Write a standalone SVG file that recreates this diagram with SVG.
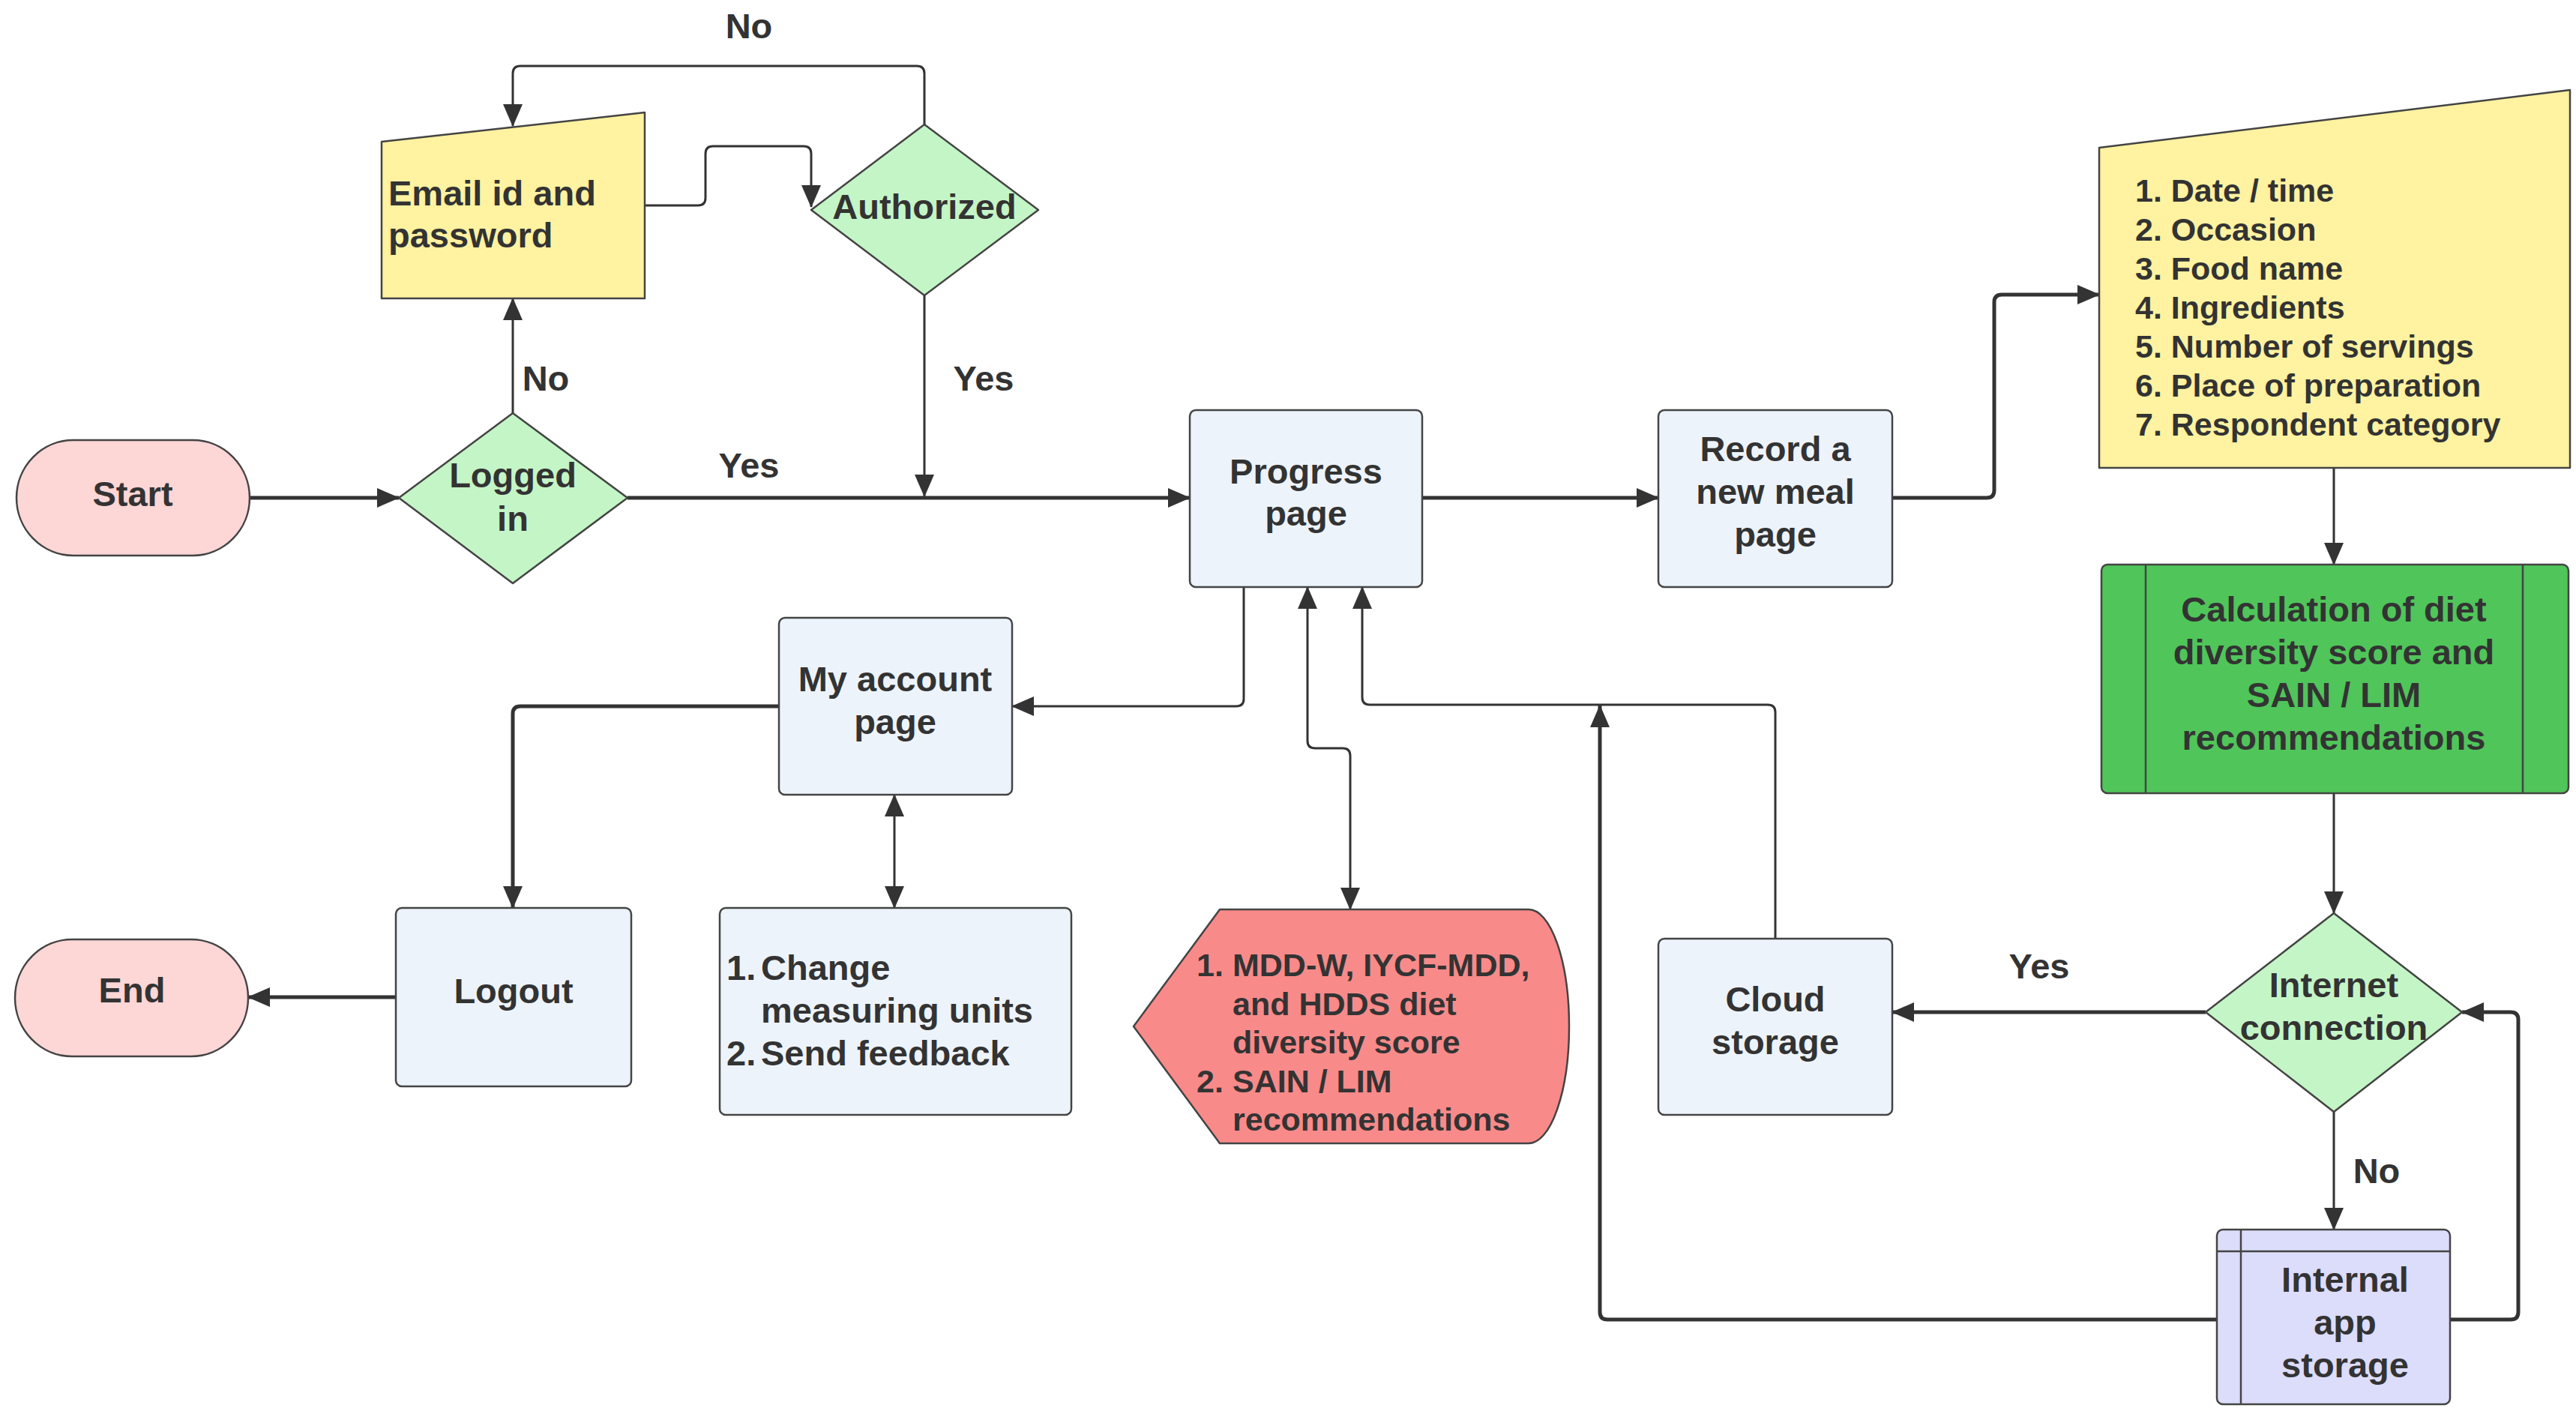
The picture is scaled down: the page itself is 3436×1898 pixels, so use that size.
<svg xmlns="http://www.w3.org/2000/svg" width="3436" height="1898" viewBox="0 0 3436 1898">
<defs>
<marker id="ah" markerUnits="userSpaceOnUse" markerWidth="30" markerHeight="26" viewBox="0 0 30 26" refX="29" refY="13" orient="auto-start-reverse">
<path d="M0,0 L30,13 L0,26 Z" fill="#333"/>
</marker>
</defs>
<style>
.s{stroke:#444;stroke-width:2.5;stroke-linejoin:round}
.t{font-family:"Liberation Sans",Arial,sans-serif;font-weight:bold;font-size:47px;fill:#333;text-anchor:middle}
.l{text-anchor:start}
.sm{font-size:43px}
.c{fill:none;stroke:#333;stroke-linejoin:round}
.k{stroke-width:5}
.n{stroke-width:3}
</style>
<rect width="3436" height="1898" fill="#fff"/>
<g id="connectors">
<path class="c k" d="M333,664 H532" marker-end="url(#ah)"/>
<path class="c k" d="M837,664 H1587" marker-end="url(#ah)"/>
<path class="c n" d="M684,551 V398" marker-end="url(#ah)"/>
<path class="c n" d="M860,274 H931 Q941,274 941,264 V205 Q941,195 951,195 H1072 Q1082,195 1082,205 V276" marker-end="url(#ah)"/>
<path class="c n" d="M1233,166 V98 Q1233,88 1223,88 H694 Q684,88 684,98 V168" marker-end="url(#ah)"/>
<path class="c n" d="M1233,394 V662" marker-end="url(#ah)"/>
<path class="c k" d="M1897,664 H2212" marker-end="url(#ah)"/>
<path class="c k" d="M2524,664 H2650 Q2660,664 2660,654 V403 Q2660,393 2670,393 H2800" marker-end="url(#ah)"/>
<path class="c n" d="M3113,624 V753" marker-end="url(#ah)"/>
<path class="c n" d="M3113,1058 V1218" marker-end="url(#ah)"/>
<path class="c k" d="M2942,1350 H2524" marker-end="url(#ah)"/>
<path class="c n" d="M3113,1483 V1640" marker-end="url(#ah)"/>
<path class="c k" d="M3268,1760 H3349 Q3359,1760 3359,1750 V1360 Q3359,1350 3349,1350 H3284" marker-end="url(#ah)"/>
<path class="c k" d="M2957,1760 H2144 Q2134,1760 2134,1750 V941" marker-end="url(#ah)"/>
<path class="c n" d="M2368,1252 V950 Q2368,940 2358,940 H1827 Q1817,940 1817,930 V783" marker-end="url(#ah)"/>
<path class="c n" d="M1801,1213 V1008 Q1801,998 1791,998 H1754 Q1744,998 1744,988 V783" marker-start="url(#ah)" marker-end="url(#ah)"/>
<path class="c n" d="M1659,783 V932 Q1659,942 1649,942 H1350" marker-end="url(#ah)"/>
<path class="c k" d="M1039,942 H694 Q684,942 684,952 V1211" marker-end="url(#ah)"/>
<path class="c n" d="M1193,1060 V1211" marker-start="url(#ah)" marker-end="url(#ah)"/>
<path class="c k" d="M528,1330 H331" marker-end="url(#ah)"/>
<text class="t" x="999" y="51" font-size="44">No</text>
<text class="t" x="728" y="521">No</text>
<text class="t" x="999" y="637">Yes</text>
<text class="t" x="1312" y="521">Yes</text>
<text class="t" x="2720" y="1305">Yes</text>
<text class="t" x="3170" y="1578">No</text>
</g>
<g id="start">
<rect class="s" x="22" y="587" width="311" height="154" rx="76" ry="77" fill="#fdd6d6"/>
<text class="t" x="177" y="675">Start</text>
</g>
<g id="logged-in">
<polygon class="s" points="684,551 837,664 684,778 532,664" fill="#c4f5c6"/>
<text class="t" x="684" y="650">Logged</text>
<text class="t" x="684" y="708">in</text>
</g>
<g id="email">
<path class="s" d="M509,189 L860,150 L860,398 L509,398 Z" fill="#fff2a0"/>
<text class="t l" x="518" y="274">Email id and</text>
<text class="t l" x="518" y="330">password</text>
</g>
<g id="authorized">
<polygon class="s" points="1233,166 1385,280 1233,394 1082,280" fill="#c4f5c6"/>
<text class="t" x="1233" y="292">Authorized</text>
</g>
<g id="progress">
<rect class="s" x="1587" y="547" width="310" height="236" rx="8" fill="#edf3fb"/>
<text class="t" x="1742" y="645">Progress</text>
<text class="t" x="1742" y="701">page</text>
</g>
<g id="record">
<rect class="s" x="2212" y="547" width="312" height="236" rx="8" fill="#edf3fb"/>
<text class="t" x="2368" y="615">Record a</text>
<text class="t" x="2368" y="672">new meal</text>
<text class="t" x="2368" y="729">page</text>
</g>
<g id="meal-data">
<path class="s" d="M2800,197 L3428,120 L3428,624 L2800,624 Z" fill="#fff2a0"/>
<text class="t l sm" x="2848" y="269">1. Date / time</text>
<text class="t l sm" x="2848" y="321">2. Occasion</text>
<text class="t l sm" x="2848" y="373">3. Food name</text>
<text class="t l sm" x="2848" y="425">4. Ingredients</text>
<text class="t l sm" x="2848" y="477">5. Number of servings</text>
<text class="t l sm" x="2848" y="529">6. Place of preparation</text>
<text class="t l sm" x="2848" y="581">7. Respondent category</text>
</g>
<g id="calculation">
<rect class="s" x="2803" y="753" width="623" height="305" rx="8" fill="#50c55a"/>
<path class="s" d="M2862,753 V1058 M3365,753 V1058" fill="none"/>
<text class="t" x="3113" y="829">Calculation of diet</text>
<text class="t" x="3113" y="886">diversity score and</text>
<text class="t" x="3113" y="943">SAIN / LIM</text>
<text class="t" x="3113" y="1000">recommendations</text>
</g>
<g id="internet">
<polygon class="s" points="3113,1218 3284,1350 3113,1483 2942,1350" fill="#c4f5c6"/>
<text class="t" x="3113" y="1330">Internet</text>
<text class="t" x="3113" y="1387">connection</text>
</g>
<g id="cloud">
<rect class="s" x="2212" y="1252" width="312" height="235" rx="8" fill="#edf3fb"/>
<text class="t" x="2368" y="1349">Cloud</text>
<text class="t" x="2368" y="1406">storage</text>
</g>
<g id="internal">
<rect class="s" x="2957" y="1640" width="311" height="233" rx="8" fill="#dcdcfb"/>
<path class="s" d="M2989,1640 V1873 M2957,1669 H3268" fill="none"/>
<text class="t" x="3128" y="1723">Internal</text>
<text class="t" x="3128" y="1780">app</text>
<text class="t" x="3128" y="1837">storage</text>
</g>
<g id="scores">
<path class="s" d="M1512,1369 L1627,1213 L2039,1213 A54,156 0 0 1 2039,1525 L1627,1525 Z" fill="#f98a8a"/>
<text class="t l sm" x="1596" y="1302">1.</text>
<text class="t l sm" x="1644" y="1302">MDD-W, IYCF-MDD,</text>
<text class="t l sm" x="1644" y="1354">and HDDS diet</text>
<text class="t l sm" x="1644" y="1405">diversity score</text>
<text class="t l sm" x="1596" y="1457">2.</text>
<text class="t l sm" x="1644" y="1457">SAIN / LIM</text>
<text class="t l sm" x="1644" y="1508">recommendations</text>
</g>
<g id="my-account">
<rect class="s" x="1039" y="824" width="311" height="236" rx="8" fill="#edf3fb"/>
<text class="t" x="1194" y="922">My account</text>
<text class="t" x="1194" y="979">page</text>
</g>
<g id="logout">
<rect class="s" x="528" y="1211" width="314" height="238" rx="8" fill="#edf3fb"/>
<text class="t" x="685" y="1338">Logout</text>
</g>
<g id="end">
<rect class="s" x="20" y="1253" width="311" height="156" rx="76" ry="78" fill="#fdd6d6"/>
<text class="t" x="176" y="1337">End</text>
</g>
<g id="settings">
<rect class="s" x="960" y="1211" width="469" height="276" rx="8" fill="#edf3fb"/>
<text class="t l" x="969" y="1307">1.</text>
<text class="t l" x="1015" y="1307">Change</text>
<text class="t l" x="1015" y="1364">measuring units</text>
<text class="t l" x="969" y="1421">2.</text>
<text class="t l" x="1015" y="1421">Send feedback</text>
</g>
</svg>
